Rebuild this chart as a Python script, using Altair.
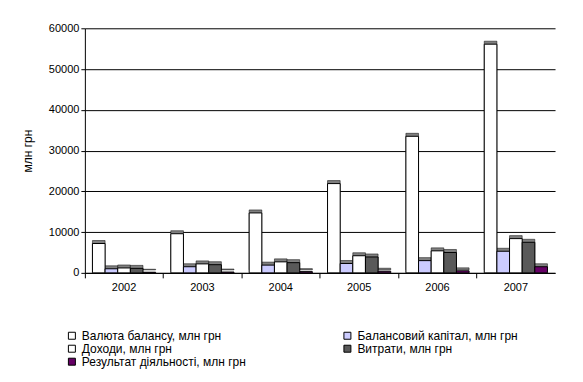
import altair as alt
import pandas as pd

years = ["2002", "2003", "2004", "2005", "2006", "2007"]
series = [
    "Валюта балансу, млн грн",
    "Балансовий капітал, млн грн",
    "Доходи, млн грн",
    "Витрати, млн грн",
    "Результат діяльності, млн грн",
]
balance = [7200, 9600, 14700, 21900, 33500, 56100]
capital = [1000, 1500, 1900, 2300, 3000, 5300]
income = [1200, 2200, 2700, 4200, 5400, 8400]
expenses = [1100, 2000, 2500, 3900, 5000, 7500]
result = [150, 200, 300, 400, 500, 1500]
colors = ["#ffffff", "#ccccff", "#ffffff", "#595959", "#660066"]

# legend fills column by column: order so rows read as in the original
legend_order = [series[0], series[2], series[4], series[1], series[3]]
legend_colors = [colors[series.index(s)] for s in legend_order]

values = [balance, capital, income, expenses, result]
rows = []
for s, vals in zip(series, values):
    for y, v in zip(years, vals):
        rows.append({"year": y, "series": s, "value": v})
df = pd.DataFrame(rows)

FONT = "Liberation Sans"

x_enc = alt.X(
    "year:N",
    scale=alt.Scale(paddingInner=0, paddingOuter=0),
    axis=alt.Axis(
        title=None, bandPosition=0, labelAngle=0,
        tickSize=5, labelPadding=4, labelFont=FONT, labelFontSize=11,
        labelColor="black", domainColor="black", tickColor="black", grid=False,
    ),
)
xoff_enc = alt.XOffset("series:N", sort=series,
                       scale=alt.Scale(paddingInner=0, paddingOuter=0.6))
y_enc = alt.Y(
    "value:Q",
    scale=alt.Scale(domain=[0, 60000], nice=False),
    axis=alt.Axis(
        title="млн грн", values=list(range(0, 60001, 10000)), format="d", grid=True,
        gridColor="black", gridOpacity=1, domainColor="black", tickColor="black",
        tickSize=4, labelFont=FONT, labelFontSize=11, labelColor="black",
        titleFont=FONT, titleFontSize=12, titleFontWeight="normal",
        titleColor="black", titlePadding=14, labelPadding=2,
    ),
)

shadow = alt.Chart(df).mark_bar(
    color="#808080", xOffset=3, yOffset=-3, stroke="black", strokeWidth=0.5
).encode(x=x_enc, xOffset=xoff_enc, y=y_enc)

bars = alt.Chart(df).mark_bar(stroke="black", strokeWidth=1).encode(
    x=x_enc,
    xOffset=xoff_enc,
    y=y_enc,
    color=alt.Color(
        "series:N",
        scale=alt.Scale(domain=legend_order, range=legend_colors),
        legend=alt.Legend(
            title=None, orient="none", legendX=-19, legendY=302, columns=2,
            columnPadding=95, rowPadding=1, symbolType="square", symbolSize=49,
            symbolStrokeColor="black", symbolStrokeWidth=1, labelOffset=4,
            labelFont=FONT, labelFontSize=12, labelColor="black", labelLimit=400,
        ),
    ),
)

chart = (
    alt.layer(shadow, bars)
    .properties(
        width=471, height=245,
        autosize=alt.AutoSizeParams(type="none"),
        padding={"left": 77, "top": 20, "right": 20, "bottom": 100},
        background="white",
    )
    .configure_view(stroke=None)
)

chart.save("out.html", embed_options={"renderer": "svg", "actions": False})
